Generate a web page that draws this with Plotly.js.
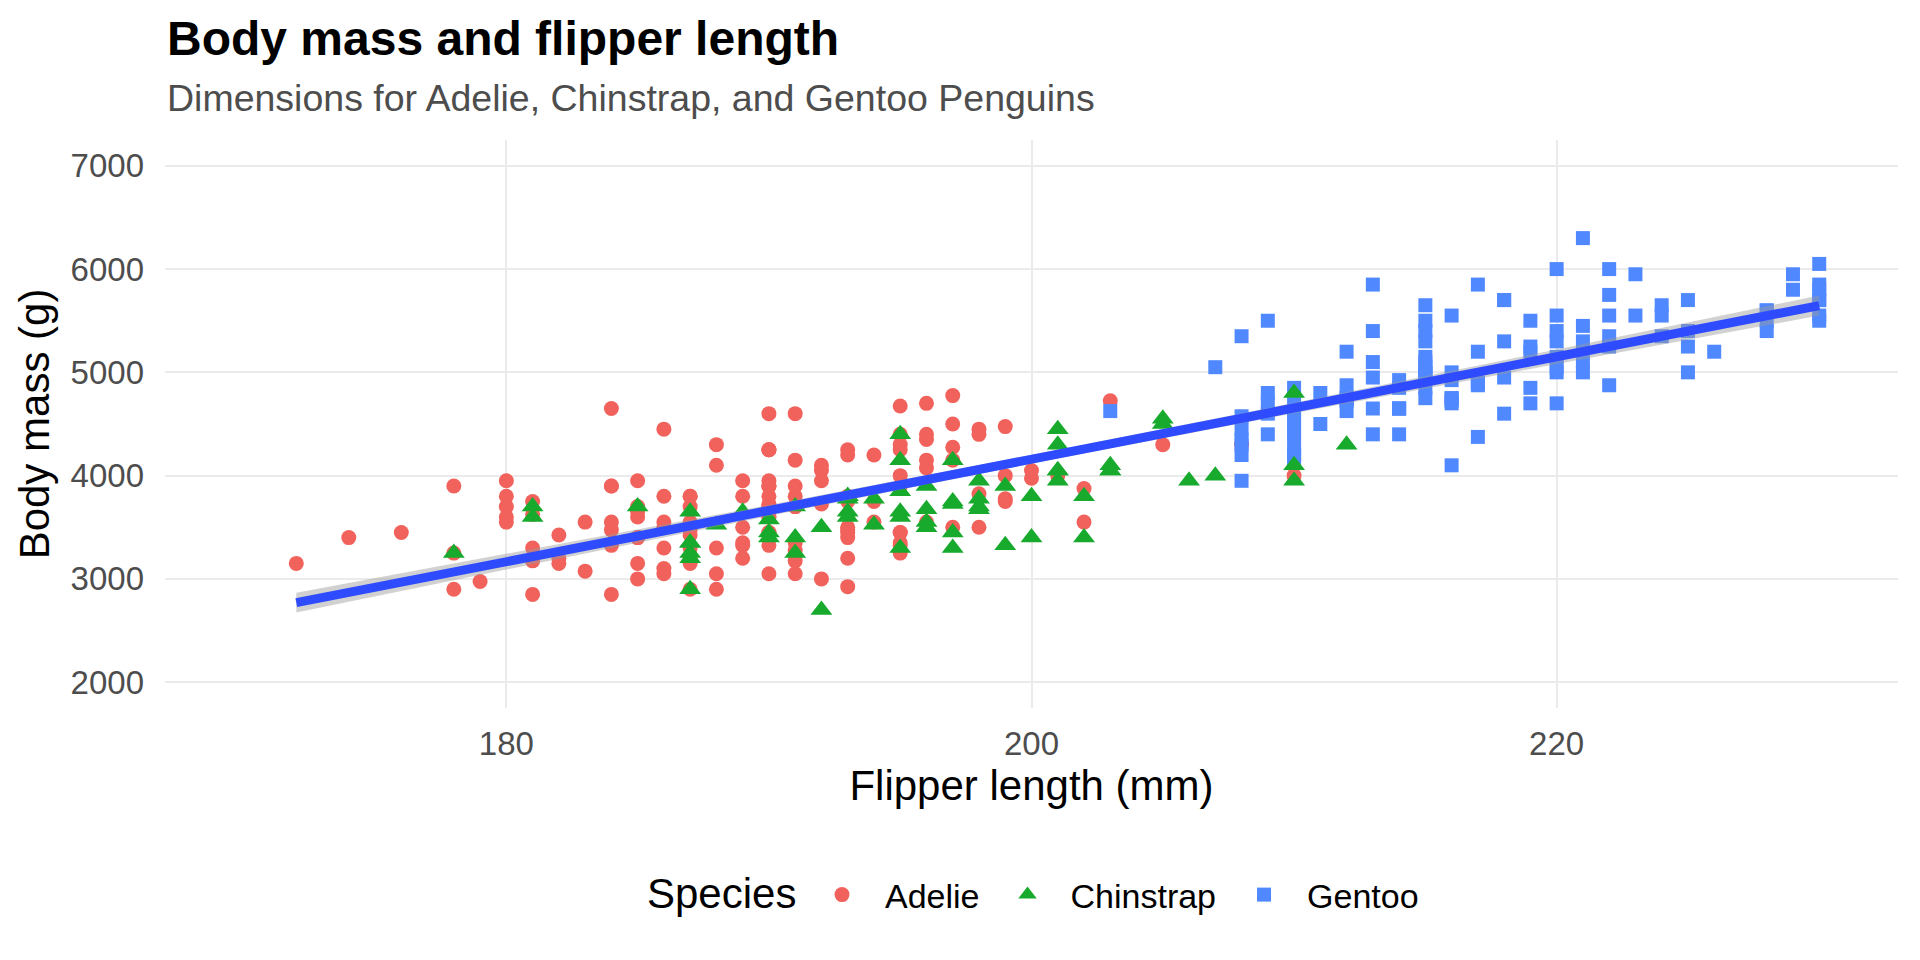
<!DOCTYPE html>
<html>
<head>
<meta charset="utf-8">
<script src="https://cdn.plot.ly/plotly-3.0.1.min.js"></script>
<style>
  body { margin: 0; background: #fff; }
  #grafico { width: 1920px; height: 960px; }
</style>
</head>
<body>
<div id="grafico"></div>
<script>
// Adelie (flipper mm, body mass g)
const adelieFlipper = [
  181, 186, 195, 193, 190, 181, 195, 193, 190, 186, 180, 182, 191, 198, 185, 195, 197, 184, 194,
  174, 180, 189, 185, 180, 187, 183, 187, 172, 180, 178, 178, 188, 184, 195, 196, 190, 180, 181, 184,
  182, 195, 186, 196, 185, 190, 182, 179, 190, 191, 186, 188, 190, 200, 187, 191, 186, 193, 181, 194,
  185, 195, 185, 192, 184, 192, 195, 188, 190, 198, 190, 190, 196, 197, 190, 195, 191, 184, 187, 195,
  189, 196, 187, 193, 191, 194, 190, 189, 189, 190, 202, 205, 185, 186, 187, 208, 190, 196, 178, 192,
  192, 203, 183, 190, 193, 184, 199, 190, 181, 197, 198, 191, 193, 197, 191, 196, 188, 199, 189, 189,
  187, 198, 176, 202, 186, 199, 191, 195, 191, 210, 190, 197, 193, 199, 187, 190, 191, 200, 185, 193,
  193, 187, 188, 190, 192, 185, 190, 184, 195, 193, 187, 201
]
const adelieMass = [
  3750, 3800, 3250, 3450, 3650, 3625, 4675, 3475, 4250, 3300, 3700, 3200, 3800, 4400, 3700, 3450, 4500, 3325, 4200,
  3400, 3600, 3800, 3950, 3800, 3800, 3550, 3200, 3150, 3950, 3250, 3900, 3300, 3900, 3325, 4150, 3950, 3550, 3300, 4650,
  3150, 3900, 3100, 4400, 3000, 4600, 3425, 2975, 3450, 4150, 3500, 4300, 3450, 4050, 2900, 3700, 3550, 3800, 2850, 3750,
  3150, 4400, 3600, 4050, 2850, 3950, 3350, 4100, 3050, 4450, 3600, 3900, 3550, 4150, 3700, 4250, 3700, 3900, 3550, 4000,
  3200, 4700, 3800, 4200, 3350, 3550, 3800, 3500, 3950, 3600, 3550, 4300, 3400, 4450, 3300, 4300, 3700, 4350, 2900, 4100,
  3725, 4725, 3075, 4250, 2925, 3550, 3750, 3900, 3175, 4775, 3825, 4600, 3200, 4275, 3900, 4075, 2900, 3775, 3350, 3325,
  3150, 3500, 3450, 3875, 3050, 4000, 3275, 4300, 3050, 4000, 3325, 3500, 3500, 4475, 3425, 3900, 3175, 3975, 3400, 4250,
  3400, 3475, 3050, 3725, 3000, 3650, 4250, 3475, 3450, 3750, 3700, 4000
]

// Chinstrap
const chinstrapFlipper = [
  192, 196, 193, 188, 197, 198, 178, 197, 195, 198, 193, 194, 185, 201, 190, 201, 197, 181, 190, 195,
  181, 191, 187, 193, 195, 197, 200, 200, 191, 205, 187, 201, 187, 203, 195, 199, 195, 210, 192, 205,
  210, 187, 196, 196, 196, 201, 190, 212, 187, 198, 199, 201, 193, 203, 187, 197, 191, 203, 202, 194,
  206, 189, 195, 207, 202, 193, 210, 198
]
const chinstrapMass = [
  3500, 3900, 3650, 3525, 3725, 3950, 3250, 3750, 4150, 3700, 3800, 3775, 3700, 4050, 3575, 4050, 3300, 3700, 3450, 4400,
  3600, 3400, 2900, 3800, 3300, 4150, 3400, 3800, 3700, 4550, 3200, 4300, 3350, 4100, 3600, 3900, 3850, 4800, 2700, 4500,
  3950, 3650, 3550, 3500, 3675, 4450, 3400, 4300, 3250, 3675, 3325, 3950, 3600, 4050, 3350, 3450, 3250, 4050, 3800, 3525,
  3950, 3650, 3650, 4000, 3400, 3775, 4100, 3775
]

// Gentoo
const gentooFlipper = [
  211, 230, 210, 218, 215, 210, 211, 219, 209, 215, 214, 216, 214, 213, 210, 217, 210, 221, 209, 222,
  218, 215, 213, 215, 215, 215, 216, 215, 210, 220, 222, 209, 207, 230, 220, 220, 213, 219, 208, 208,
  208, 225, 210, 216, 222, 217, 210, 225, 213, 215, 210, 220, 210, 225, 217, 220, 208, 220, 208, 224,
  208, 221, 214, 219, 230, 214, 229, 220, 223, 216, 221, 221, 217, 216, 230, 209, 220, 215, 223,
  212, 221, 212, 224, 212, 228, 218, 218, 212, 230, 218, 228, 212, 224, 214, 226, 216, 222, 203, 225,
  219, 228, 215, 228, 216, 215, 210, 219, 208, 209, 216, 229, 213, 230, 217, 230, 217, 222, 214, 215,
  222, 212, 213
]
const gentooMass = [
  4500, 5700, 4450, 5700, 5400, 4550, 4800, 5200, 4400, 5150, 4650, 5550, 4650, 5850, 4200, 5850, 4150, 6300, 4800, 5350,
  5700, 5000, 4400, 5050, 5000, 5100, 4100, 5650, 4600, 5550, 5250, 4700, 5050, 6050, 5150, 5400, 4950, 5250, 4350, 5350,
  3950, 5700, 4300, 4750, 5550, 4900, 4200, 5400, 5100, 5300, 4850, 5300, 4400, 5000, 4900, 5050, 4300, 5000, 4450, 5550,
  4200, 5300, 4400, 4700, 5700, 4650, 5800, 4700, 5550, 4750, 5000, 5100, 5200, 4700, 5800, 4600, 6000, 4750, 5950,
  4625, 5450, 4725, 5350, 4750, 5600, 4600, 5300, 4875, 5550, 4950, 5400, 4750, 5650, 4850, 5200, 4925, 4875, 4625, 5250,
  4850, 5600, 4975, 5500, 4725, 5500, 4700, 5500, 4575, 5500, 5000, 5950, 4650, 5500, 4375, 5850, 4875, 6000, 4925, 4850,
  5750, 5200, 5400
]

// linha de tendencia (lm) e faixa de confianca
const fitX = [172, 180, 190, 200, 210, 220, 230]
const fitY = [2770, 3167, 3663, 4159, 4655, 5151, 5647]
const fitLow = [2674, 3092, 3610, 4117, 4605, 5080, 5550]
const fitHigh = [2866, 3242, 3716, 4201, 4705, 5222, 5744]

const xTicks = [180, 200, 220]
const yTicks = [2000, 3000, 4000, 5000, 6000, 7000]

const fonte = "Liberation Sans, Arial, sans-serif"

// area do painel em pixels
const painel = { l: 165, r: 1898, t: 140, b: 708 }
const pxX = (px) => (px - painel.l) / (painel.r - painel.l)
const pxY = (py) => (painel.b - py) / (painel.b - painel.t)

function pontos(nome, x, y, simbolo, cor, tamanho, rank) {
  return {
    x: x,
    y: y,
    name: nome,
    type: "scatter",
    mode: "markers",
    legendrank: rank,
    marker: { symbol: simbolo, color: cor, size: tamanho, line: { width: 0 } },
    hoverinfo: "skip",
  }
}

const data = [
  pontos("Adelie", adelieFlipper, adelieMass, "circle", "#F2625C", 15, 1),
  pontos("Gentoo", gentooFlipper, gentooMass, "square", "#5089FF", 14, 3),
  pontos("Chinstrap", chinstrapFlipper, chinstrapMass, "triangle-up", "#17AA2D", 19, 2),
  {
    x: fitX,
    y: fitLow,
    type: "scatter",
    mode: "lines",
    line: { width: 0 },
    showlegend: false,
    hoverinfo: "skip",
  },
  {
    x: fitX,
    y: fitHigh,
    type: "scatter",
    mode: "lines",
    line: { width: 0 },
    fill: "tonexty",
    fillcolor: "rgba(153,153,153,0.45)",
    showlegend: false,
    hoverinfo: "skip",
  },
  {
    x: fitX,
    y: fitY,
    type: "scatter",
    mode: "lines",
    line: { color: "#2E4BFF", width: 9 },
    showlegend: false,
    hoverinfo: "skip",
  },
]

const layout = {
  width: 1920,
  height: 960,
  paper_bgcolor: "#ffffff",
  plot_bgcolor: "#ffffff",
  font: { family: fonte, color: "#000000" },
  margin: { l: painel.l, r: 1920 - painel.r, t: painel.t, b: 960 - painel.b, pad: 0 },
  showlegend: true,
  xaxis: {
    range: [167, 233],
    tickvals: xTicks,
    ticks: "",
    ticklabelstandoff: 13,
    showgrid: true,
    gridcolor: "#EBEBEB",
    gridwidth: 2,
    zeroline: false,
    showline: false,
    tickfont: { size: 33, color: "#4D4D4D" },
    title: { text: "Flipper length (mm)", font: { size: 42, color: "#000000" }, standoff: 2 },
  },
  yaxis: {
    range: [1750, 7250],
    tickvals: yTicks,
    ticks: "",
    ticklabelstandoff: 20,
    showgrid: true,
    gridcolor: "#EBEBEB",
    gridwidth: 2,
    zeroline: false,
    showline: false,
    tickfont: { size: 33, color: "#4D4D4D" },
    title: { text: "Body mass (g)", font: { size: 42, color: "#000000" }, standoff: 7 },
  },
  legend: {
    orientation: "h",
    traceorder: "normal",
    x: pxX(799),
    xanchor: "left",
    y: pxY(895),
    yanchor: "middle",
    itemwidth: 76,
    font: { size: 34, color: "#000000" },
    bgcolor: "rgba(0,0,0,0)",
  },
  annotations: [
    {
      text: "<b>Body mass and flipper length</b>",
      xref: "paper",
      yref: "paper",
      x: pxX(165),
      y: pxY(39),
      xanchor: "left",
      yanchor: "middle",
      showarrow: false,
      font: { size: 48, color: "#000000" },
    },
    {
      text: "Dimensions for Adelie, Chinstrap, and Gentoo Penguins",
      xref: "paper",
      yref: "paper",
      x: pxX(165),
      y: pxY(98),
      xanchor: "left",
      yanchor: "middle",
      showarrow: false,
      font: { size: 37.5, color: "#4D4D4D" },
    },
    {
      // titulo da legenda
      text: "Species",
      xref: "paper",
      yref: "paper",
      x: pxX(645),
      y: pxY(893),
      xanchor: "left",
      yanchor: "middle",
      showarrow: false,
      font: { size: 42, color: "#000000" },
    },
  ],
}

Plotly.newPlot("grafico", data, layout, { displayModeBar: false, staticPlot: true })
</script>
</body>
</html>
